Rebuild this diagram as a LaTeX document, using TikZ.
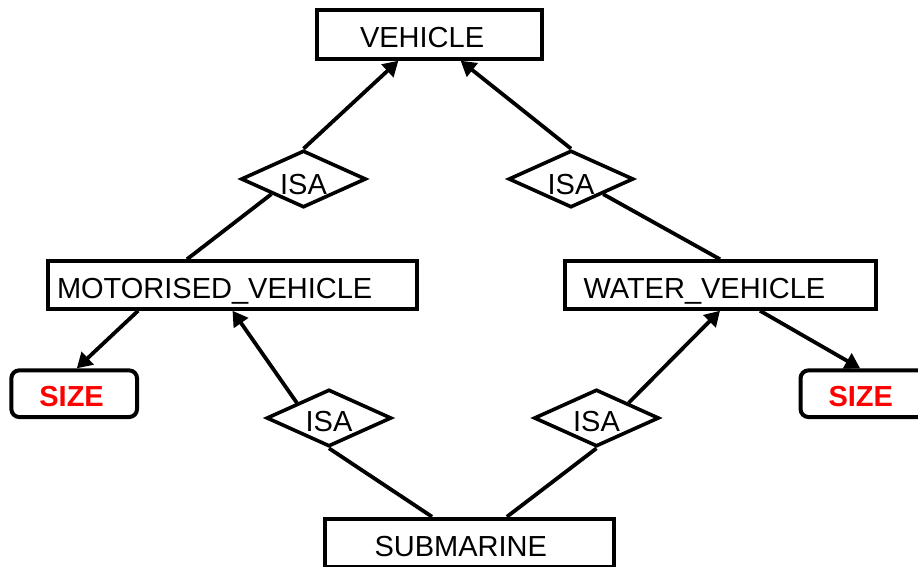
\documentclass[tikz,border=0pt]{standalone}
\usepackage{fontspec}
\setmainfont{Liberation Sans}
\usetikzlibrary{shapes.geometric,arrows.meta,calc}
\begin{document}
\begin{tikzpicture}[x=1pt,y=-1pt,
  lbl/.style={font=\fontsize{29}{34}\selectfont, text height=26pt, text depth=0pt},
  entity/.style={lbl, draw, line width=4pt, inner xsep=0pt, inner ysep=0pt, align=left},
  attrbox/.style={entity, rounded corners=8pt, text=red, font=\fontsize{29}{34}\selectfont\bfseries},
  isa/.style={lbl, draw, diamond, line width=3.6pt, inner sep=0pt, shape aspect=2.15,
              minimum width=125pt, minimum height=57pt},
  link/.style={line width=3.8pt},
  isarrow/.style={link, -{Triangle[length=15pt,width=17pt]}}
]
\useasboundingbox (0,0) rectangle (918,567);
\clip (0,0) rectangle (918,567);
\fill[white] (0,0) rectangle (918,567);

% entities
\node[entity, minimum width=225pt, minimum height=48.5pt, text width=139pt] (veh) at (429.5,34.5) {VEHICLE};
\node[entity, minimum width=369pt, minimum height=47.5pt, text width=351pt] (mv) at (232.5,285) {MOTORISED\_VEHICLE};
\node[entity, minimum width=311pt, minimum height=47.5pt, text width=273pt] (water) at (720,285) {WATER\_VEHICLE};
\node[entity, minimum width=288.4pt, minimum height=48.5pt, text width=190pt] (sub) at (469.5,543) {SUBMARINE};

% attributes
\node[attrbox, minimum width=125.7pt, minimum height=46.7pt, text width=69.7pt] (sizeL) at (74.2,393.7) {SIZE};
\node[attrbox, minimum width=125.7pt, minimum height=46.7pt, text width=69.7pt] (sizeR) at (863.4,393.7) {SIZE};

% ISA relationships
\node[isa, text height=30pt] (isaUL) at (303.5,179) {ISA};
\node[isa, text height=30pt] (isaUR) at (571,179) {ISA};
\node[isa] (isaLL) at (329,418) {ISA};
\node[isa] (isaLR) at (596.5,418) {ISA};

% hierarchy links
\draw[isarrow] (isaUL.north) -- ($(veh.south west)!0.364!(veh.south east)$);
\draw[link] ($(mv.north west)!0.378!(mv.north east)$) -- (isaUL.south west);
\draw[isarrow] (isaUR.north) -- ($(veh.south west)!0.636!(veh.south east)$);
\draw[link] (water.north) -- (isaUR.south east);
\draw[isarrow] (isaLL.north west) -- (mv.south);
\draw[link] (isaLL.south) -- ($(sub.north west)!0.372!(sub.north east)$);
\draw[isarrow] (isaLR.north east) -- (water.south);
\draw[link] (isaLR.south) -- ($(sub.north west)!0.628!(sub.north east)$);

% attribute links
\draw[isarrow] ($(mv.south west)!0.247!(mv.south east)$) -- ($(sizeL.north west)!0.52!(sizeL.north east)$);
\draw[isarrow] ($(water.south west)!0.627!(water.south east)$) -- ($(sizeR.north west)!0.475!(sizeR.north east)$);
\end{tikzpicture}
\end{document}
